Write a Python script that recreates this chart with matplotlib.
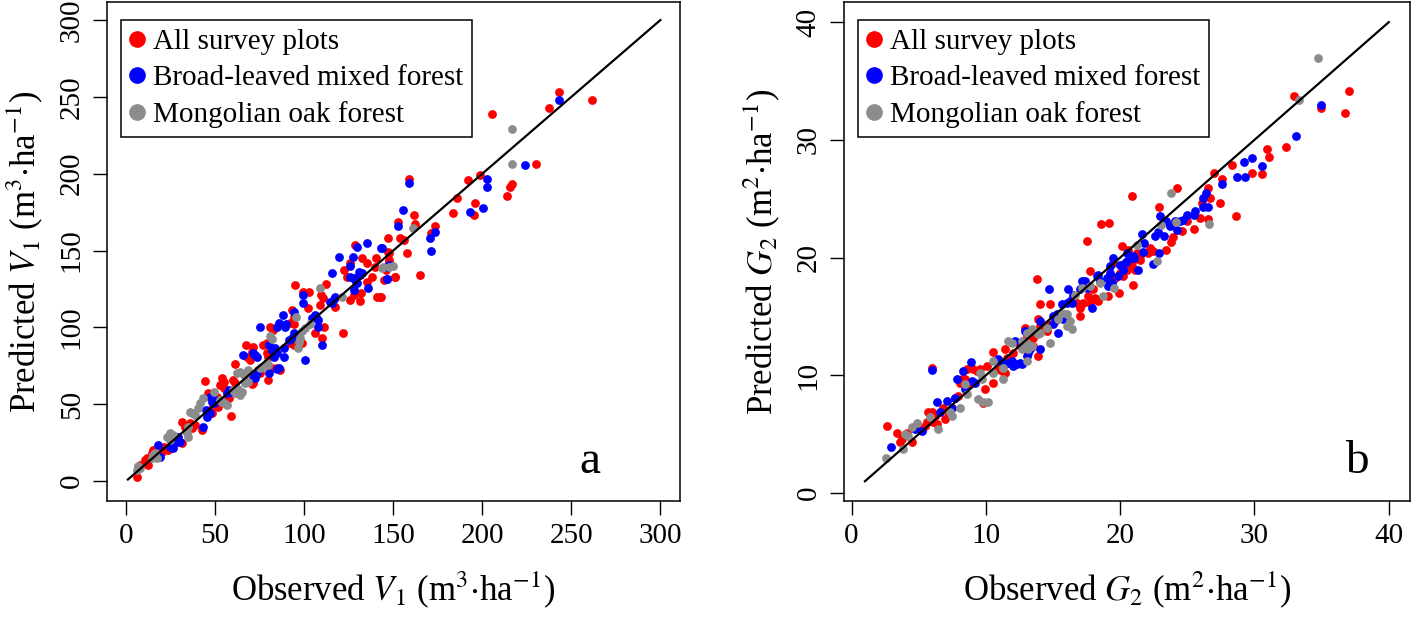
import numpy as np
import matplotlib
matplotlib.use('Agg')
import matplotlib.pyplot as plt
from matplotlib.lines import Line2D

# panel a: observed vs predicted V1 (m3/ha)
a_red = [(242.9,252.9),(261.4,248.3),(237.6,242.5),(205.4,239.2),(230.3,206.5),(159,196.7),(192.1,195.8),
         (198.5,199.1),(216.7,193.2),(215.3,191.1),(213.9,185.6),(185.8,183.9),(195.9,180.7),(195.3,173.1),
         (183.5,174.2),(161.8,173.3),(152.4,168.3),(162.5,167.6),(173.4,165.9),(171.2,161.2),(164.8,134.0),
         (153.9,158.5),(155.8,156.8),(146.8,158.3),(157.7,148.1),(147.4,148.1),(147.4,142.7),(146.1,137.3),
         (144.9,130.8),(151,132.9),(143.1,119.9),(128.7,153.5),(146.8,149.2),(132.4,145.0),(140.4,145.0),
         (135.2,141.6),(125.8,141.6),(147.4,143.8),(139.9,139.4),(151.1,132.9),(122.1,137.3),(124.0,132.9),
         (138.0,132.5),(135.2,129.7),(132.0,122.5),(127.7,121.0),(125.8,117.8),(131.5,117.3),(140.8,119.9),
         (142.3,119.9),(112.2,128.0),(94.6,127.3),(99.3,123.2),(102.8,123.2),(109.7,121.0),(110.3,118.9),
         (109.0,114.5),(117.4,113.5),(102.0,112.5),(93.1,111.3),(94.0,106.5),(92.1,102.6),(94.0,101.9),
         (80.9,100.4),(82.4,98.2),(111.2,100.4),(106.2,96.1),(109.9,92.8),(121.7,96.1),(92.1,89.6),(94.0,88.5),
         (98.7,89.6),(77.1,88.5),(79.0,89.6),(79.0,83.1),(79.9,80.9),(67.4,88.5),(71.5,87.4),(70.6,84.1),
         (67.8,80.9),(69.7,78.7),(81.9,73.7),(84.7,73.3),(86.5,72.2),(79.9,65.7),(74.3,72.2),(75.3,70.0),
         (71.5,63.6),(70.6,63.1),(61.2,75.9),(60.3,65.7),(61.2,63.6),(53.8,66.8),(54.7,64.6),(52.8,62.5),
         (54.7,60.3),(44.4,65.1),(56.6,54.8),(57.5,53.8),(46.2,57.1),(50.9,54.8),(51.5,48.3),(47.2,46.2),
         (48.1,44.0),(59.0,42.3),(31.3,38.6),(33.1,35.3),(36.0,37.5),(36.9,34.3),(38.8,36.4),(42.5,33.2),
         (21.0,22.3),(23.8,20.2),(20.0,19.1),(31.3,24.5),(15.3,20.2),(14.4,18.0),(10.7,13.7),(11.6,14.8),
         (12.5,10.4),(7.9,10.4),(6.0,2.8)]
a_blue = [(242.9,248.3),(223.8,205.8),(159,194.1),(202.4,196.5),(202.4,191.5),(192.9,175.0),(200.2,177.4),
          (155.4,176.6),(152.4,165.9),(173.4,162.2),(170.6,158.3),(171.3,149.8),(143.7,151.4),(147.4,140.5),
          (146.4,131.4),(129.6,152.4),(135.2,154.6),(143.3,151.4),(119.3,146.1),(127.2,145.7),(125.8,139.9),
          (146.4,139.4),(146.5,131.2),(115.5,135.5),(130.5,136.2),(131.5,134.0),(132.4,135.5),(127.7,131.9),
          (128.7,130.8),(125.8,132.5),(129.6,128.6),(136.1,125.4),(127.7,124.3),(116.5,118.2),(117.4,119.5),
          (114.6,116.7),(115.6,115.6),(99.6,121.0),(99.6,115.6),(94.0,110.2),(88.0,108.0),(89.3,100.4),
          (89.9,102.1),(75.3,100.4),(85.6,102.6),(84.7,100.4),(105.8,108.0),(106.7,106.9),(108.0,104.7),
          (104.3,105.8),(108.0,100.4),(109.9,88.5),(94.0,96.1),(93.1,92.8),(91.2,91.7),(100.6,78.7),(80.5,88.5),
          (81.9,85.2),(83.7,86.3),(84.7,83.1),(83.1,80.9),(88.4,86.3),(88.4,80.9),(65.9,82.0),(71.2,83.1),
          (72.5,82.0),(73.4,80.9),(80.5,70.0),(84.7,72.7),(86.1,73.3),(73.4,70.0),(71.5,67.9),(72.5,66.8),
          (57.5,59.2),(56.6,57.1),(58.4,58.1),(47.2,54.8),(48.1,51.6),(49.1,50.6),(50.0,52.7),(44.9,46.2),
          (47.2,44.0),(45.3,41.8),(43.4,35.3),(29.4,28.8),(30.3,25.6),(27.5,24.5),(24.7,22.3),(26.6,21.3),
          (18.1,23.4),(19.1,15.8)]
a_grey = [(216.9,229.0),(216.9,206.5),(161.1,165.0),(144.2,139.0),(149.8,139.9),(147.9,139.4),(143.6,138.4),
          (121.2,119.9),(109.0,125.9),(95.5,106.9),(103.4,102.1),(100.6,99.3),(98.7,97.8),(97.8,93.4),(97.2,90.6),
          (96.8,86.3),(80.9,94.2),(81.9,92.5),(79.0,77.0),(79.9,75.5),(77.1,74.4),(75.3,73.3),(68.7,72.2),
          (67.4,70.0),(68.7,64.6),(66.9,63.6),(62.5,70.5),(64.0,71.1),(66.3,69.0),(60.3,59.2),(61.2,57.1),
          (63.1,59.7),(65.0,58.1),(64.0,56.0),(49.1,58.1),(52.8,52.7),(53.8,51.6),(54.7,50.6),(56.6,49.4),
          (43.0,53.8),(41.6,50.6),(40.6,47.3),(36.0,45.1),(36.9,44.0),(38.8,42.9),(35.0,35.3),(34.1,31.0),
          (35.0,28.4),(22.9,28.4),(24.7,31.0),(26.6,29.9),(24.7,26.7),(15.3,16.9),(16.3,18.0),(17.2,14.8),
          (14.4,14.8),(6.9,9.8),(7.9,8.3),(6.0,7.2)]

# panel b: observed vs predicted G2 (m2/ha)
b_red = [(32.95,33.73),(34.93,32.74),(37.04,34.15),(36.77,32.31),(30.94,29.24),(31.06,28.58),(32.31,29.38),
         (28.29,27.86),(29.80,27.18),(30.56,27.06),(26.97,27.18),(27.59,26.67),(24.24,25.91),(20.89,25.25),
         (19.18,22.94),(18.61,22.86),(26.55,25.91),(26.67,25.03),(26.06,24.64),(27.42,24.66),(28.63,23.50),
         (25.98,23.36),(26.55,23.31),(24.99,23.08),(24.57,22.29),(25.51,22.46),(22.90,24.26),(23.94,21.75),
         (23.40,20.68),(23.82,21.30),(22.21,20.82),(22.45,20.53),(22.08,20.40),(21.22,20.40),(21.47,19.83),
         (20.92,19.83),(20.85,19.26),(21.09,18.98),(21.47,20.11),(20.10,20.96),(20.60,20.68),(19.48,19.55),
         (19.98,18.70),(19.61,18.28),(20.97,17.63),(17.50,21.44),(17.75,18.84),(20.22,18.42),(20.48,18.98),
         (19.93,17.01),(17.62,16.72),(18.36,16.30),(19.11,16.72),(17.99,17.29),(18.12,16.58),(17.75,16.16),
         (17.00,15.74),(17.00,15.03),(16.50,16.58),(16.76,16.16),(17.25,16.16),(14.64,14.32),(15.14,14.60),
         (14.52,13.75),(14.03,16.02),(14.77,16.02),(13.78,18.14),(13.90,14.75),(14.03,14.18),(12.91,14.04),
         (13.04,13.33),(13.28,13.19),(13.53,13.19),(12.78,12.91),(13.53,12.48),(13.90,11.64),(13.15,12.77),
         (12.54,12.48),(11.42,12.20),(11.55,11.50),(11.30,11.08),(12.04,11.92),(10.55,11.97),(10.92,10.51),
         (11.18,10.36),(11.42,10.23),(10.55,9.38),(9.93,8.81),(8.45,9.72),(8.57,10.51),(9.06,10.51),(9.32,10.36),
         (9.56,10.51),(10.06,10.79),(8.07,9.38),(8.20,9.66),(7.95,8.25),(7.70,8.11),(8.69,9.24),(9.81,7.63),
         (6.83,7.26),(7.20,6.84),(6.96,6.27),(5.71,6.84),(6.21,6.55),(5.60,5.99),(6.09,5.99),(6.34,5.85),
         (5.97,6.84),(5.47,5.70),(5.10,5.42),(4.11,5.14),(3.74,4.58),(3.61,4.30),(4.48,4.30),(3.36,5.14),
         (2.62,5.70),(5.97,10.65)]
b_blue = [(34.93,32.97),(33.07,30.34),(29.20,28.14),(29.80,28.5),(30.54,27.74),(28.73,26.86),(29.33,26.84),
          (27.59,26.21),(26.38,25.48),(26.13,25.03),(26.18,24.30),(26.55,24.26),(25.56,23.92),(25.51,23.58),
          (24.94,23.64),(24.69,23.22),(24.44,23.08),(22.98,23.50),(23.38,23.08),(23.70,22.65),(24.20,22.37),
          (24.07,23.08),(23.27,21.81),(22.78,22.18),(22.58,21.81),(21.59,22.01),(21.79,21.25),(21.71,20.45),
          (22.90,20.40),(22.41,19.49),(21.04,19.97),(20.48,20.40),(20.52,19.69),(20.22,18.98),(20.35,19.55),
          (19.48,19.97),(19.23,19.26),(19.85,18.42),(19.23,18.70),(21.34,18.98),(18.36,18.56),(18.99,18.28),
          (19.23,17.99),(19.98,19.41),(20.97,20.11),(19.11,17.57),(19.36,17.86),(18.49,17.99),(18.24,18.42),
          (17.13,17.99),(17.37,17.99),(17.50,17.43),(17.00,17.29),(17.87,15.74),(16.13,17.29),(16.50,16.86),
          (16.26,16.30),(16.38,16.16),(16.01,16.16),(15.64,16.02),(15.27,15.17),(15.02,15.03),(15.51,15.03),
          (15.76,14.75),(15.02,14.32),(15.39,13.62),(14.03,14.60),(14.72,17.29),(12.91,13.75),(12.17,12.91),
          (13.15,11.92),(14.03,12.20),(13.28,12.20),(13.04,11.64),(10.92,11.36),(11.30,11.08),(11.67,11.08),
          (11.92,11.21),(12.04,10.79),(12.54,11.08),(12.66,10.93),(12.29,10.93),(8.87,11.16),(8.32,10.36),
          (7.83,9.72),(8.45,8.81),(9.19,9.38),(8.94,9.52),(7.70,8.11),(7.08,7.82),(6.58,6.84),(6.34,7.69),
          (7.46,7.26),(5.22,5.28),(4.72,5.42),(2.94,3.87),(5.97,10.45)]
b_grey = [(34.76,36.98),(33.32,33.39),(23.75,25.45),(26.62,22.86),(23.01,22.74),(24.14,23.05),(21.29,21.10),
          (22.71,19.69),(18.49,17.86),(18.74,16.72),(19.55,17.43),(17.13,17.43),(17.75,17.57),(16.63,16.86),
          (15.64,15.31),(16.01,15.17),(16.26,14.60),(15.39,14.75),(16.01,14.18),(16.38,13.90),(14.52,14.04),
          (14.03,13.62),(13.41,13.90),(13.04,13.62),(13.90,13.47),(12.66,12.91),(13.04,12.77),(13.41,12.48),
          (13.15,12.20),(13.04,11.21),(12.66,12.20),(14.77,12.77),(11.67,12.91),(11.92,12.77),(11.30,10.65),
          (10.55,11.21),(11.30,9.66),(10.51,10.23),(9.56,10.23),(9.69,9.66),(8.45,9.24),(8.57,8.39),(9.43,8.02),
          (9.81,7.69),(10.18,7.74),(7.33,6.84),(7.46,6.55),(8.07,7.26),(5.84,6.42),(6.46,5.42),(4.85,5.93),
          (4.48,5.57),(3.98,5.0),(4.23,4.86),(3.85,3.73),(2.57,2.97)]

labels = ['All survey plots', 'Broad-leaved mixed forest', 'Mongolian oak forest']
colors = ['#ff0000', '#0000ff', '#8c8c8c']

plt.rcParams['font.family'] = 'Liberation Serif'
plt.rcParams['mathtext.fontset'] = 'stix'

fig = plt.figure(figsize=(14.18, 6.19), dpi=100)

panels = [
    dict(pos=[0.0755, 0.1906, 0.404, 0.806], data=[a_red, a_blue, a_grey],
         line=(1, 300), xlim=(-10.7, 311), ylim=(-13, 311.7), ticks=np.arange(0, 301, 50),
         xlabel=r'Observed $V_1$ (m$^3$$\cdot$ha$^{-1}$)', ylabel=r'Predicted $V_1$ (m$^3$$\cdot$ha$^{-1}$)',
         letter='a', letter_x=0.843),
    dict(pos=[0.5952, 0.1906, 0.399, 0.806], data=[b_red, b_blue, b_grey],
         line=(1, 40), xlim=(-0.56, 41.56), ylim=(-0.68, 41.7), ticks=np.arange(0, 41, 10),
         xlabel=r'Observed $G_2$ (m$^2$$\cdot$ha$^{-1}$)', ylabel=r'Predicted $G_2$ (m$^2$$\cdot$ha$^{-1}$)',
         letter='b', letter_x=0.906),
]

for p in panels:
    ax = fig.add_axes(p['pos'])
    for pts, c in zip(p['data'], colors):
        xy = np.array(pts)
        ax.scatter(xy[:, 0], xy[:, 1], s=40, color=c, linewidths=0, zorder=2)
    ax.plot(p['line'], p['line'], color='black', lw=1.6, zorder=3)
    ax.set_xlim(*p['xlim'])
    ax.set_ylim(*p['ylim'])
    ax.set_xticks(p['ticks'])
    ax.set_yticks(p['ticks'])
    ax.tick_params(direction='out', length=10, width=1, labelsize=21, pad=6)
    ax.tick_params(axis='y', labelrotation=90)
    for lab in ax.get_yticklabels():
        lab.set_verticalalignment('center')
    for sp in ax.spines.values():
        sp.set_linewidth(1.1)
    ax.set_xlabel(p['xlabel'], fontsize=25, labelpad=14)
    ax.set_ylabel(p['ylabel'], fontsize=25, labelpad=10)
    ax.text(p['letter_x'], 0.078, p['letter'], transform=ax.transAxes, fontsize=34,
            ha='center', va='center')
    handles = [Line2D([], [], marker='o', ls='none', color=c, markersize=11) for c in colors]
    leg = ax.legend(handles, labels, loc='upper left', bbox_to_anchor=(0.024, 0.964),
                    borderaxespad=0, fontsize=21, frameon=True, fancybox=False,
                    edgecolor='black', framealpha=1, handlelength=0.5, handletextpad=0.3,
                    labelspacing=0.33, borderpad=0.3)
    leg.get_frame().set_linewidth(1.1)

fig.savefig('out.png', dpi=100)
